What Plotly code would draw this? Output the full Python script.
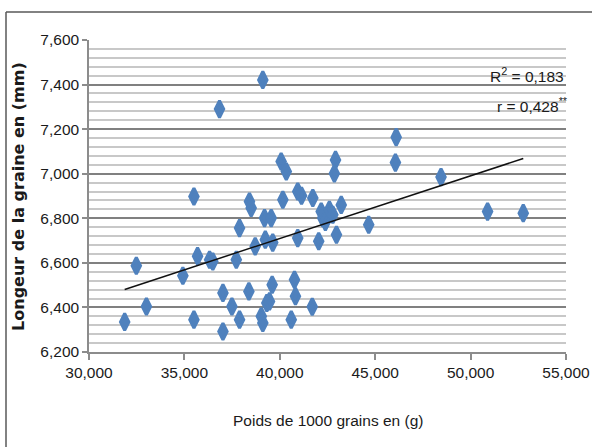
import numpy as np
import plotly.graph_objects as go

# Poids de 1000 grains (g)
poids = [31.87, 32.48, 33.01, 34.92, 35.50, 35.50, 35.69, 36.32, 36.49, 36.84,
         37.02, 37.02, 37.49, 37.72, 37.89, 37.89, 38.41, 38.50, 38.38, 38.71,
         39.11, 39.03, 39.11, 39.20, 39.32, 39.46, 39.24, 39.55, 39.60, 39.63,
         40.07, 40.34, 40.16, 40.60, 40.77, 40.82, 40.94, 41.14, 40.94, 41.70,
         41.73, 42.04, 42.17, 42.25, 42.39, 42.60, 42.78, 42.92, 42.86, 42.97,
         43.22, 44.66, 46.06, 46.10, 48.45, 50.89, 52.76]
# Longueur de la graine (mm)
longueur = [6.335, 6.587, 6.404, 6.542, 6.898, 6.345, 6.630, 6.614, 6.606, 7.290,
            6.292, 6.465, 6.404, 6.614, 6.756, 6.345, 6.875, 6.846, 6.472, 6.674,
            7.421, 6.360, 6.330, 6.801, 6.420, 6.427, 6.704, 6.801, 6.502, 6.691,
            7.055, 7.010, 6.883, 6.345, 6.524, 6.450, 6.920, 6.901, 6.711, 6.403,
            6.891, 6.697, 6.830, 6.801, 6.784, 6.838, 6.816, 7.062, 7.001, 6.726,
            6.860, 6.771, 7.050, 7.164, 6.985, 6.830, 6.823]

x_ticks = [30, 35, 40, 45, 50, 55]
y_ticks = [6.2, 6.4, 6.6, 6.8, 7.0, 7.2, 7.4, 7.6]

x_title = "Poids de 1000 grains en (g)"
y_title = "Longeur de la graine en (mm)"
r2_text = "R<sup>2</sup> = 0,183"
r_text = "r = 0,428<sup>**</sup>"

x = np.array(poids)
y = np.array(longueur)
slope, intercept = np.polyfit(x, y, 1)
xl = np.array([x.min(), x.max()])
yl = slope * xl + intercept

FONT = "Liberation Sans"
TXT = "#1a1a1a"

fig = go.Figure()
fig.add_trace(go.Scatter(
    x=poids, y=longueur, mode="markers",
    marker=dict(symbol="diamond-tall", size=12, color="#4f81bd",
                line=dict(color="#4f81bd", width=3)),
    showlegend=False, hoverinfo="skip"))
fig.add_trace(go.Scatter(
    x=xl, y=yl, mode="lines", line=dict(color="#111111", width=1.5),
    showlegend=False, hoverinfo="skip"))

fig.update_layout(
    width=592, height=447,
    margin=dict(l=89, r=26, t=40, b=95, autoexpand=False),
    paper_bgcolor="white", plot_bgcolor="white",
    separators=", ",
    font=dict(family=FONT, size=15, color=TXT),
    xaxis=dict(range=[30, 55], tickvals=x_ticks, tickformat=".3f",
               automargin=False,
               showgrid=False, zeroline=False, showline=True,
               linecolor="#8c8c8c", linewidth=1.5, ticks="outside",
               ticklen=6, tickcolor="#8c8c8c", tickwidth=1.5,
               tickfont=dict(family=FONT, size=15.5, color=TXT)),
    yaxis=dict(range=[6.2, 7.6], tickvals=y_ticks, tickformat=".3f",
               automargin=False,
               showgrid=True, gridcolor="#808080", gridwidth=1.8,
               zeroline=False, showline=True, linecolor="#8c8c8c",
               linewidth=1.5, ticks="outside", ticklen=5,
               tickcolor="#8c8c8c", tickwidth=1.5,
               tickfont=dict(family=FONT, size=15.5, color=TXT),
               minor=dict(dtick=0.04, tick0=6.2, showgrid=True,
                          gridcolor="#c8c8c8", gridwidth=1.5)),
    annotations=[
        dict(text=x_title, xref="paper", yref="paper", x=0.5, y=-0.218,
             xanchor="center", yanchor="middle", showarrow=False,
             font=dict(family=FONT, size=15.5, color=TXT)),
        dict(text=y_title, xref="paper", yref="paper", x=-0.149, y=0.5,
             xanchor="center", yanchor="middle", textangle=-90,
             showarrow=False,
             font=dict(family="DejaVu Sans", size=16, color=TXT, weight="bold")),
        dict(text=r2_text, xref="paper", yref="paper", x=1.0, y=(352 - 75) / 312,
             xanchor="right", yanchor="middle", showarrow=False,
             font=dict(family=FONT, size=15.5, color=TXT)),
        dict(text=r_text, xref="paper", yref="paper", x=1.008, y=(352 - 105) / 312,
             xanchor="right", yanchor="middle", showarrow=False,
             font=dict(family=FONT, size=15.5, color=TXT)),
    ],
    shapes=[
        dict(type="line", xref="paper", yref="paper",
             x0=(6 - 89) / 477, x1=(592 - 89) / 477,
             y0=(352 - 12) / 312, y1=(352 - 12) / 312,
             line=dict(color="#595959", width=1.5)),
        dict(type="line", xref="paper", yref="paper",
             x0=(6 - 89) / 477, x1=(6 - 89) / 477,
             y0=(352 - 12) / 312, y1=(352 - 447) / 312,
             line=dict(color="#595959", width=1.5)),
    ],
)

fig.write_html("out.html")
